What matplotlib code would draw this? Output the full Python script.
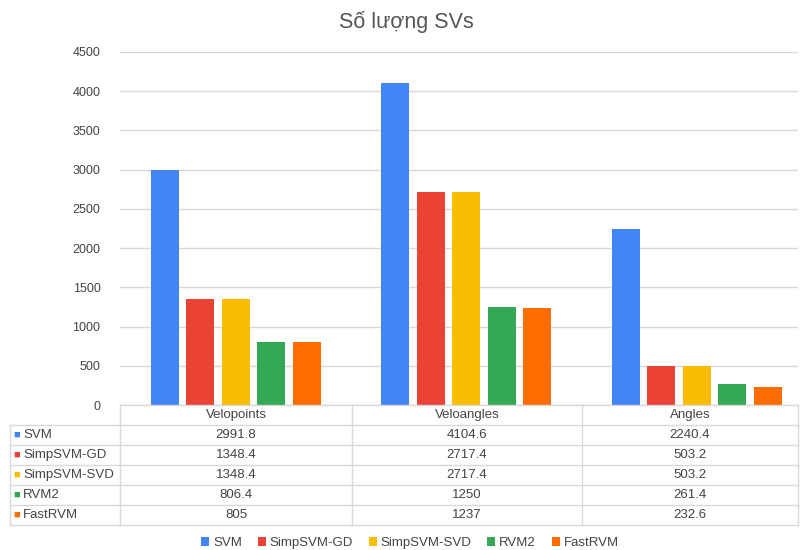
import matplotlib.pyplot as plt
import numpy as np

plt.rcParams['font.family'] = ['Liberation Sans', 'DejaVu Sans']

categories = ["Velopoints", "Veloangles", "Angles"]
series_names = ["SVM", "SimpSVM-GD", "SimpSVM-SVD", "RVM2", "FastRVM"]
svm = [2991.8, 4104.6, 2240.4]
simpsvm_gd = [1348.4, 2717.4, 503.2]
simpsvm_svd = [1348.4, 2717.4, 503.2]
rvm2 = [806.4, 1250, 261.4]
fastrvm = [805, 1237, 232.6]
series_values = [svm, simpsvm_gd, simpsvm_svd, rvm2, fastrvm]
table_text = [["2991.8", "4104.6", "2240.4"],
              ["1348.4", "2717.4", "503.2"],
              ["1348.4", "2717.4", "503.2"],
              ["806.4", "1250", "261.4"],
              ["805", "1237", "232.6"]]
colors = ["#4285F4", "#EA4335", "#FBBC04", "#34A853", "#FF6D01"]

W, H = 800, 550
fig = plt.figure(figsize=(8, 5.5), dpi=100)

def fx(x):
    return x / W

def fy(y):
    return 1 - y / H

# plot area in pixels
left, right, top, bottom = 120, 798, 52, 405
ax = fig.add_axes([fx(left), fy(bottom), fx(right - left), (bottom - top) / H])

x = np.arange(len(categories))
bw = 0.122
step = 0.154
handles = []
for i, (name, vals) in enumerate(zip(series_names, series_values)):
    h = ax.bar(x + (i - 2) * step, vals, width=bw, color=colors[i], label=name, zorder=3)
    handles.append(h)

ax.set_xlim(-0.503, 2.44)
ax.set_ylim(0, 4500)
ax.set_yticks(np.arange(0, 4501, 500))
ax.set_xticks([])
ax.grid(axis='y', color='#d9d9d9', linewidth=1, zorder=0)
ax.tick_params(axis='y', length=0, labelsize=9, labelcolor='#444444', pad=14)
for s in ax.spines.values():
    s.set_visible(False)

fig.text(fx(406), fy(22), "Số lượng SVs", ha='center', va='center', fontsize=15.5, color='#555555')

# data table under the plot
line_c = '#d9d9d9'
col_x = [10, 120, 352, 582, 798]
row_y = [405, 425, 445, 465, 485, 505, 525]
fig.add_artist(plt.Line2D([fx(120), fx(798)], [fy(405), fy(405)], color=line_c, lw=1))
for yy in row_y[1:]:
    fig.add_artist(plt.Line2D([fx(10), fx(798)], [fy(yy), fy(yy)], color=line_c, lw=1))
fig.add_artist(plt.Line2D([fx(10), fx(10)], [fy(425), fy(525)], color=line_c, lw=1))
for xx in col_x[1:]:
    fig.add_artist(plt.Line2D([fx(xx), fx(xx)], [fy(405), fy(525)], color=line_c, lw=1))

txt_c = '#444444'
for j, cat in enumerate(categories):
    cx = (col_x[j + 1] + col_x[j + 2]) / 2
    fig.text(fx(cx), fy(415), cat, ha='center', va='center', fontsize=9.5, color=txt_c)
for i, name in enumerate(series_names):
    cy = (row_y[i + 1] + row_y[i + 2]) / 2
    fig.text(fx(13), fy(cy), "■", ha='left', va='center', fontsize=8, color=colors[i])
    fig.text(fx(23), fy(cy), name, ha='left', va='center', fontsize=9.5, color=txt_c)
    for j in range(len(categories)):
        cx = (col_x[j + 1] + col_x[j + 2]) / 2
        fig.text(fx(cx), fy(cy), table_text[i][j], ha='center', va='center', fontsize=9.5, color=txt_c)

leg = fig.legend(handles=handles, labels=series_names, loc='center', ncol=5,
                 bbox_to_anchor=(fx(410), fy(543)), frameon=False, fontsize=9.5,
                 handlelength=0.6, handleheight=0.6, handletextpad=0.3, columnspacing=1.2)
for t in leg.get_texts():
    t.set_color(txt_c)

fig.savefig("out.png", dpi=100, facecolor='white')
